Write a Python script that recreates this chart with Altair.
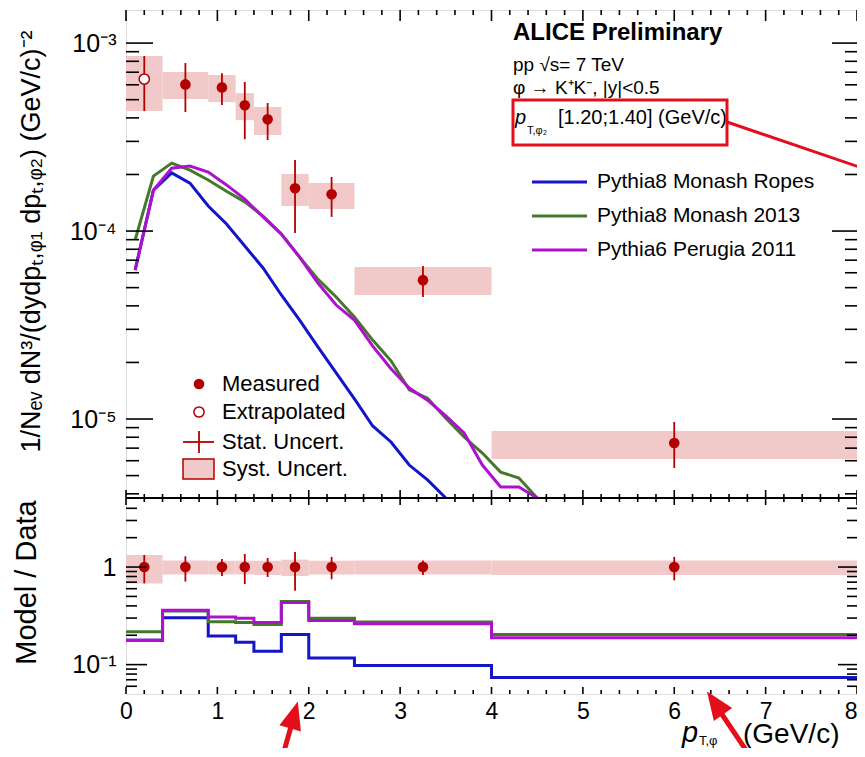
import altair as alt
import pandas as pd

# ---------------- data ----------------
bin_lo = [0.0, 0.4, 0.9, 1.2, 1.4, 1.7, 2.0, 2.5, 4.0]
bin_hi = [0.4, 0.9, 1.2, 1.4, 1.7, 2.0, 2.5, 4.0, 8.0]
pt_x = [0.2, 0.65, 1.05, 1.3, 1.55, 1.85, 2.25, 3.25, 6.0]
pt_kind = ["Extrapolated", "Measured", "Measured", "Measured", "Measured",
           "Measured", "Measured", "Measured", "Measured"]
yield_val = [6.44e-4, 6.03e-4, 5.81e-4, 4.67e-4, 3.93e-4, 1.69e-4, 1.57e-4, 5.48e-5, 7.45e-6]
stat_lo = [4.35e-4, 4.30e-4, 4.68e-4, 3.08e-4, 3.05e-4, 9.75e-5, 1.19e-4, 4.46e-5, 5.49e-6]
stat_hi = [8.53e-4, 7.83e-4, 6.92e-4, 6.21e-4, 4.80e-4, 2.39e-4, 1.94e-4, 6.52e-5, 9.64e-6]
syst_lo = [4.35e-4, 5.04e-4, 4.85e-4, 3.89e-4, 3.24e-4, 1.36e-4, 1.31e-4, 4.57e-5, 6.12e-6]
syst_hi = [8.53e-4, 7.01e-4, 6.76e-4, 5.42e-4, 4.57e-4, 2.01e-4, 1.80e-4, 6.44e-5, 8.63e-6]

model_x = [0.1, 0.3, 0.5, 0.7, 0.9, 1.1, 1.3, 1.5, 1.7, 1.9, 2.1, 2.3,
           2.5, 2.7, 2.9, 3.1, 3.3, 3.5, 3.7, 3.9, 4.1, 4.3, 4.5]
ropes_y = [6.20e-5, 1.65e-4, 2.04e-4, 1.80e-4, 1.36e-4, 1.09e-4, 8.32e-5, 6.36e-5,
           4.57e-5, 3.36e-5, 2.42e-5, 1.76e-5, 1.28e-5, 9.18e-6, 7.55e-6, 5.69e-6,
           4.74e-6, 3.71e-6]
monash_y = [8.96e-5, 1.96e-4, 2.30e-4, 2.11e-4, 1.87e-4, 1.63e-4, 1.43e-4, 1.20e-4,
            9.64e-5, 7.27e-5, 5.55e-5, 4.46e-5, 3.49e-5, 2.63e-5, 2.04e-5, 1.43e-5,
            1.29e-5, 1.01e-5, 8.02e-6, 6.59e-6, 5.22e-6, 4.85e-6, 3.49e-6]
perugia_y = [6.20e-5, 1.65e-4, 2.16e-4, 2.22e-4, 2.06e-4, 1.76e-4, 1.48e-4, 1.19e-4,
             9.64e-5, 7.27e-5, 5.29e-5, 4.04e-5, 3.36e-5, 2.44e-5, 1.85e-5, 1.46e-5,
             1.26e-5, 1.04e-5, 8.43e-6, 5.69e-6, 4.35e-6, 4.35e-6, 3.28e-6]

ratio_val = [1.0, 1.0, 1.0, 1.0, 1.0, 1.0, 1.0, 1.0, 1.0]
ratio_stat_lo = [0.68, 0.71, 0.81, 0.67, 0.79, 0.57, 0.75, 0.83, 0.73]
ratio_stat_hi = [1.33, 1.29, 1.21, 1.36, 1.24, 1.43, 1.27, 1.17, 1.27]
ratio_syst_lo = [0.68, 0.84, 0.84, 0.84, 0.83, 0.81, 0.84, 0.84, 0.83]
ratio_syst_hi = [1.33, 1.17, 1.16, 1.16, 1.16, 1.19, 1.16, 1.17, 1.17]
ratio_edges = [0.0, 0.4, 0.9, 1.2, 1.4, 1.7, 2.0, 2.5, 4.0, 8.0]
ratio_ropes = [0.178, 0.303, 0.196, 0.170, 0.137, 0.204, 0.117, 0.098, 0.074]
ratio_monash = [0.217, 0.355, 0.275, 0.270, 0.258, 0.443, 0.298, 0.273, 0.204]
ratio_perugia = [0.178, 0.360, 0.307, 0.298, 0.270, 0.432, 0.284, 0.263, 0.188]

model_names = ["Pythia8 Monash Ropes", "Pythia8 Monash 2013", "Pythia6 Perugia 2011"]
data_legend = ["Measured", "Extrapolated", "Stat. Uncert.", "Syst. Uncert."]
x_tick_labels = [0, 1, 2, 3, 4, 5, 6, 7, 8]

# ---------------- style ----------------
FONT = "Liberation Sans"
DRED = "#b40000"
PINK = "#f2c9c9"
BLUE = "#1414c8"
GREEN = "#44782b"
MAG = "#ae10d0"
ANN = "#e3101c"
model_colors = [BLUE, GREEN, MAG]

W, H = 731, 684
HT = 488  # height of upper pad

xs = alt.Scale(domain=[0, 8], nice=False, zero=False)
xaxis = alt.Axis(values=x_tick_labels, ticks=False, domain=False, grid=False,
                 labelFontSize=23, labelFont=FONT, labelColor="black",
                 labelPadding=6, labelFlush=False, labelAngle=0, title=None,
                 labelAlign={"condition": {"test": "datum.value >= 8", "value": "right"},
                             "value": "center"})

ys_top = alt.Scale(type="log", domain=[3.8e-6, 1.5e-3], range=[HT, 0], nice=False, clamp=True)
yaxis_top = alt.Axis(orient="left", values=[1e-5, 1e-4, 1e-3],
                     labelExpr="datum.value < 2e-5 ? '10\u207b\u2075' : (datum.value < 2e-4 ? '10\u207b\u2074' : '10\u207b\u00b3')",
                     ticks=False, domain=False, grid=False, labelFontSize=25, labelFont=FONT,
                     labelColor="black", labelPadding=10,
                     title="1/N\u2091\u1d65 dN\u00b3/(dydp\u209c,\u1d69\u2081 dp\u209c,\u1d69\u2082) (GeV/c)\u207b\u00b2",
                     titleFont=FONT, titleFontSize=27, titleFontWeight="normal", titleColor="black",
                     titleX=-95, titleY=231, titleAngle=270, titleAlign="center", titleBaseline="middle")

ys_bot = alt.Scale(type="log", domain=[0.05, 5.1], range=[H, HT], nice=False, clamp=True)
yaxis_bot = alt.Axis(orient="left", values=[0.1, 1],
                     labelExpr="datum.value < 0.5 ? '10\u207b\u00b9' : '1'",
                     ticks=False, domain=False, grid=False, labelFontSize=25, labelFont=FONT,
                     labelColor="black", labelPadding=10,
                     title="Model / Data", titleFont=FONT, titleFontSize=29,
                     titleFontWeight="normal", titleColor="black",
                     titleX=-100, titleY=572, titleAngle=270, titleAlign="center",
                     titleBaseline="middle")


def X(f):
    return alt.X(f, type="quantitative", scale=xs, axis=xaxis)


def X2(f):
    return alt.X2(f)


def YT(f):
    return alt.Y(f, type="quantitative", scale=ys_top, axis=yaxis_top)


def YB(f):
    return alt.Y(f, type="quantitative", scale=ys_bot, axis=yaxis_bot)


dummy = pd.DataFrame({"a": [0]})


def txt(s, x, y, size, weight="normal", style="normal", align="left", baseline="middle", color="black"):
    return alt.Chart(dummy).mark_text(
        text=s, font=FONT, fontSize=size, fontWeight=weight, fontStyle=style,
        align=align, baseline=baseline, color=color
    ).encode(x=alt.value(x), y=alt.value(y))


def prule(x0, y0, x1, y1, color, width):
    return alt.Chart(dummy).mark_rule(color=color, strokeWidth=width, strokeCap="butt").encode(
        x=alt.value(x0), y=alt.value(y0), x2=alt.value(x1), y2=alt.value(y1))


def xticks(vals, y0, y1):
    return alt.Chart(pd.DataFrame({"v": vals})).mark_rule(color="black", strokeWidth=1.6).encode(
        x=X("v"), y=alt.value(y0), y2=alt.value(y1))


def yticks(vals, yf, x0, x1):
    return alt.Chart(pd.DataFrame({"v": vals})).mark_rule(color="black", strokeWidth=1.6).encode(
        y=yf("v"), x=alt.value(x0), x2=alt.value(x1))


x_major = [float(v) for v in x_tick_labels]
x_minor = [round(i * 0.2, 1) for i in range(41) if i % 5 != 0]
top_major = [1e-5, 1e-4, 1e-3]
top_minor = [m * 10.0 ** e for e in (-6, -5, -4) for m in range(2, 10) if 3.8e-6 < m * 10.0 ** e < 1.5e-3]
bot_major = [0.1, 1.0]
bot_minor = [m * 10.0 ** e for e in (-2, -1, 0) for m in range(2, 10) if 0.055 < m * 10.0 ** e < 5.0]

# ---------------- upper pad ----------------
df_syst = pd.DataFrame({"x1": bin_lo, "x2": bin_hi, "lo": syst_lo, "hi": syst_hi})
df_pts = pd.DataFrame({"x": pt_x, "kind": pt_kind, "y": yield_val, "lo": stat_lo, "hi": stat_hi})

top_layers = [
    alt.Chart(df_syst).mark_rect(color=PINK, opacity=1).encode(
        x=X("x1"), x2=X2("x2"), y=YT("lo"), y2=alt.Y2("hi")),
]
for ys_, col in [(ropes_y, BLUE), (monash_y, GREEN), (perugia_y, MAG)]:
    dfm = pd.DataFrame({"x": model_x[:len(ys_)], "y": ys_})
    top_layers.append(alt.Chart(dfm).mark_line(color=col, strokeWidth=3).encode(x=X("x"), y=YT("y")))
top_layers += [
    alt.Chart(df_pts).mark_rule(color=DRED, strokeWidth=1.8).encode(x=X("x"), y=YT("lo"), y2=alt.Y2("hi")),
    alt.Chart(df_pts).transform_filter(alt.datum.kind == "Measured").mark_point(
        filled=True, size=113, color=DRED, opacity=1).encode(x=X("x"), y=YT("y")),
    alt.Chart(df_pts).transform_filter(alt.datum.kind == "Extrapolated").mark_point(
        filled=True, size=105, fill="white", stroke=DRED, strokeWidth=1.5, opacity=1).encode(x=X("x"), y=YT("y")),
    # frame ticks
    xticks(x_major, 0, 11), xticks(x_minor, 0, 5),
    xticks(x_major, HT - 8, HT), xticks(x_minor, HT - 4, HT),
    yticks(top_major, YT, 0, 27), yticks(top_minor, YT, 0, 13),
    yticks(top_major, YT, W - 25, W), yticks(top_minor, YT, W - 12, W),
    # text block
    txt("ALICE Preliminary", 387, 23, 24, weight="bold"),
    txt("pp  \u221as= 7 TeV", 387, 55, 19),
    txt("\u03c6 \u2192 K\u207aK\u207b, |y|<0.5", 387, 78, 19),
    txt("p", 389, 108, 20, style="italic"),
    txt("T,\u03c6\u2082", 401, 121, 11),
    txt("[1.20;1.40] (GeV/c)", 432, 108, 20),
    alt.Chart(dummy).mark_rect(fill=None, stroke=ANN, strokeWidth=3, filled=False).encode(
        x=alt.value(387), x2=alt.value(601), y=alt.value(90), y2=alt.value(135)),
    prule(601, 112, 745, 161, ANN, 3),
]
# model legend
for i, (name, col) in enumerate(zip(model_names, model_colors)):
    yy = 172 + 34 * i
    top_layers.append(prule(406, yy, 461, yy, col, 3))
    top_layers.append(txt(name, 471, yy, 21))
# data legend
leg_y = [374, 402, 432, 459]
top_layers += [
    alt.Chart(dummy).mark_point(filled=True, size=113, color=DRED, opacity=1).encode(
        x=alt.value(73), y=alt.value(leg_y[0])),
    alt.Chart(dummy).mark_point(filled=True, size=105, fill="white", stroke=DRED, strokeWidth=1.5, opacity=1).encode(
        x=alt.value(73), y=alt.value(leg_y[1])),
    prule(57, leg_y[2], 88, leg_y[2], DRED, 1.8),
    prule(73, leg_y[2] - 11, 73, leg_y[2] + 11, DRED, 1.8),
    alt.Chart(dummy).mark_rect(fill=PINK, stroke=DRED, strokeWidth=1.5).encode(
        x=alt.value(57), x2=alt.value(88), y=alt.value(leg_y[3] - 10), y2=alt.value(leg_y[3] + 10)),
]
for lab, yy in zip(data_legend, leg_y):
    top_layers.append(txt(lab, 96, yy, 22))

top = alt.layer(*top_layers)

# ---------------- lower pad ----------------
df_rsyst = pd.DataFrame({"x1": bin_lo, "x2": bin_hi, "lo": ratio_syst_lo, "hi": ratio_syst_hi})
df_rpts = pd.DataFrame({"x": pt_x, "r": ratio_val, "lo": ratio_stat_lo, "hi": ratio_stat_hi})

bot_layers = [
    alt.Chart(df_rsyst).mark_rect(color=PINK, opacity=1).encode(
        x=X("x1"), x2=X2("x2"), y=YB("lo"), y2=alt.Y2("hi")),
]
for vals, col in [(ratio_ropes, BLUE), (ratio_monash, GREEN), (ratio_perugia, MAG)]:
    dfr = pd.DataFrame({"x": ratio_edges, "r": vals + [vals[-1]]})
    bot_layers.append(alt.Chart(dfr).mark_line(color=col, strokeWidth=3, interpolate="step-after").encode(
        x=X("x"), y=YB("r")))
bot_layers += [
    alt.Chart(df_rpts).mark_rule(color=DRED, strokeWidth=1.8).encode(x=X("x"), y=YB("lo"), y2=alt.Y2("hi")),
    alt.Chart(df_rpts).mark_point(filled=True, size=113, color=DRED, opacity=1).encode(x=X("x"), y=YB("r")),
    prule(0, HT, W, HT, "black", 2),
    xticks(x_major, HT, HT + 7), xticks(x_minor, HT, HT + 4),
    xticks(x_major, H - 7, H), xticks(x_minor, H - 4, H),
    yticks(bot_major, YB, 0, 21), yticks(bot_minor, YB, 0, 11),
    yticks(bot_major, YB, W - 19, W), yticks(bot_minor, YB, W - 10, W),
    # x title
    txt("p", 556, 732, 29, style="italic", baseline="alphabetic"),
    txt("T,\u03c6", 573, 735, 13, baseline="alphabetic"),
    txt("(GeV/c)", 617, 733, 28, baseline="alphabetic"),
    # red arrows
    prule(155, 752, 168, 706, ANN, 5),
    alt.Chart(dummy).mark_point(shape="M0,-1L0.8,1L-0.8,1Z", size=784, filled=True, color=ANN,
                                opacity=1, angle=16).encode(x=alt.value(168), y=alt.value(705)),
    prule(628, 752, 589, 694, ANN, 5),
    alt.Chart(dummy).mark_point(shape="M0,-1L0.8,1L-0.8,1Z", size=784, filled=True, color=ANN,
                                opacity=1, angle=325).encode(x=alt.value(589), y=alt.value(693)),
]
bot = alt.layer(*bot_layers)

chart = alt.layer(top, bot).resolve_scale(y="independent").properties(
    width=W, height=H,
    autosize=alt.AutoSizeParams(type="none"),
    padding={"left": 118, "top": 2, "right": 0, "bottom": 54},
).configure_view(stroke="black", strokeWidth=2).configure(background="white")

chart.save("out.html", embed_options={"renderer": "svg", "actions": False})
